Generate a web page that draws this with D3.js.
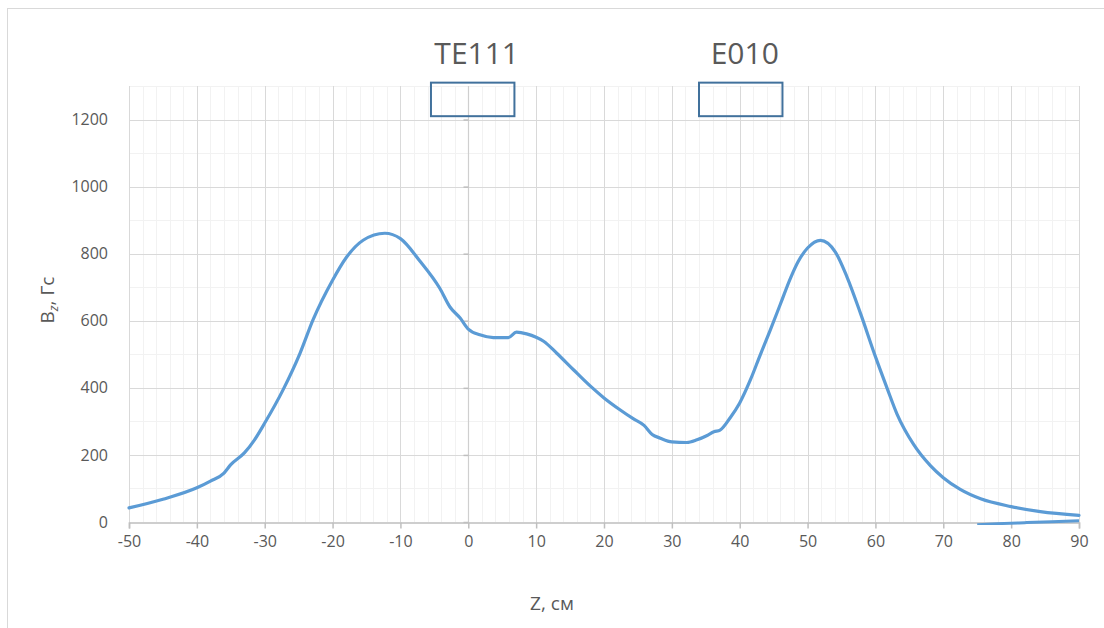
<!doctype html>
<html>
<head>
    <meta charset="UTF-8">
    <title>Bz(Z)</title>
    <script src="https://cdn.jsdelivr.net/npm/d3@7"></script>
    <style>
        body { margin: 0; background: #fff; }
        text { font-family: "Open Sans", "Noto Sans", sans-serif; fill: #595959; }
    </style>
</head>
<body>
<svg class="chart" width="1104" height="628"></svg>
<script>
    // magnetic field along z, main curve
    var zVals = [-50, -45, -40, -38, -36, -35, -33, -31.5, -30, -27.3, -24.8, -22.9, -20, -18, -15.5, -12.3, -10, -7.2,
        -4.2, -2.7, -1.2, 0, 1.7, 3.7, 5.9, 7.1, 8.6, 10, 11.1, 13, 15.5, 18, 20, 22.4, 24.3, 25.9, 27.1, 28.3, 30,
        32.2, 33.7, 35.2, 36.2, 37.1, 38.6, 40, 41.6, 43, 44.5, 46, 47.5, 48.6, 50, 51.9, 54.1, 55.8, 57.8, 60, 61.7, 63.2,
        65.6, 68.1, 70, 72.5, 75.5, 80, 84.3, 90];
    var bzVals = [42, 68, 102, 122, 146, 171, 206, 245, 295, 394, 503, 602, 721, 788, 840, 861, 845, 780,
        697, 641, 608, 575, 558, 550, 550, 566, 561, 551, 539, 504, 454, 405, 370, 334, 308, 288, 261, 250, 239,
        237, 245, 258, 269, 274, 311, 355, 425, 497, 572, 650, 728, 776, 817, 840, 805, 731, 622, 493, 400, 321,
        232, 168, 132, 97, 69, 46, 31, 20];
    // second short series near the axis at the right end
    var z2Vals = [75, 78, 82, 86, 90];
    var bz2Vals = [-8, -5, -2, 1, 4];

    var xTicks = d3.range(-50, 91, 10);
    var yTicks = d3.range(0, 1201, 200);

    var boxLabels = ['TE111', 'E010'];
    var boxStart = [-5.5, 34.0];
    var boxEnd = [6.8, 46.3];
    var boxBottom = 1210, boxTop = 1310;

    var svg = d3.select('.chart');
    var margin = {left: 129, right: 25, top: 86, bottom: 106};
    var W = 1104, H = 628;

    var x = d3.scaleLinear().domain([-50, 90]).range([margin.left, W - margin.right]);
    var y = d3.scaleLinear().domain([0, 1300]).range([H - margin.bottom, margin.top]);

    // outer chart frame
    svg.append('rect').attr('x', 7.5).attr('y', 8.5).attr('width', 1110).attr('height', 640)
        .attr('fill', 'none').attr('stroke', '#d9d9d9').attr('stroke-width', 1);

    var grid = svg.append('g');
    // minor gridlines
    grid.selectAll('.vmin').data(d3.range(-50, 91, 2)).enter().append('line')
        .attr('x1', function (d) { return Math.round(x(d)) + 0.5; })
        .attr('x2', function (d) { return Math.round(x(d)) + 0.5; })
        .attr('y1', y(1300)).attr('y2', y(0))
        .attr('stroke', '#f2f2f2').attr('stroke-width', 1);
    grid.selectAll('.hmin').data(d3.range(100, 1301, 100)).enter().append('line')
        .attr('x1', x(-50)).attr('x2', x(90))
        .attr('y1', function (d) { return Math.round(y(d)) + 0.5; })
        .attr('y2', function (d) { return Math.round(y(d)) + 0.5; })
        .attr('stroke', '#f2f2f2').attr('stroke-width', 1);
    // major gridlines
    grid.selectAll('.vmaj').data(xTicks).enter().append('line')
        .attr('x1', function (d) { return Math.round(x(d)) + 0.5; })
        .attr('x2', function (d) { return Math.round(x(d)) + 0.5; })
        .attr('y1', y(1300)).attr('y2', y(0))
        .attr('stroke', '#d9d9d9').attr('stroke-width', 1);
    grid.selectAll('.hmaj').data(d3.range(200, 1201, 200)).enter().append('line')
        .attr('x1', x(-50)).attr('x2', x(90))
        .attr('y1', function (d) { return Math.round(y(d)) + 0.5; })
        .attr('y2', function (d) { return Math.round(y(d)) + 0.5; })
        .attr('stroke', '#d9d9d9').attr('stroke-width', 1);

    // x axis
    var xAxis = svg.append('g').attr('transform', 'translate(0,' + (Math.round(y(0)) + 0.5) + ')')
        .call(d3.axisBottom(x).tickValues(xTicks).tickSize(6).tickPadding(7)
            .tickFormat(function (d) { return String(d); }));
    xAxis.select('.domain').attr('stroke', '#bfbfbf').attr('stroke-width', 1.5);
    xAxis.selectAll('.tick line').attr('stroke', '#bfbfbf').attr('stroke-width', 1.5);
    xAxis.selectAll('.tick text').attr('font-size', '16px').attr('fill', '#595959')
        .style('font-family', '"Open Sans", "Noto Sans", sans-serif');

    // y axis line sits at z = 0, labels on the left edge
    var yAxis = svg.append('g').attr('transform', 'translate(' + (Math.round(x(0)) + 0.5) + ',0)')
        .call(d3.axisLeft(y).tickValues(yTicks).tickSize(5).tickFormat(''));
    yAxis.select('.domain').attr('stroke', '#cfcfcf').attr('stroke-width', 1.2)
        .attr('d', 'M0,' + y(1300) + 'V' + y(0));
    yAxis.selectAll('.tick line').attr('stroke', '#bfbfbf').attr('stroke-width', 1.5);

    svg.append('g').selectAll('text').data(yTicks).enter().append('text')
        .attr('x', 108).attr('y', function (d) { return y(d); })
        .attr('dy', '0.35em').attr('text-anchor', 'end').attr('font-size', '16px')
        .text(function (d) { return d; });

    // curves
    var line = d3.line()
        .x(function (d) { return x(d[0]); })
        .y(function (d) { return y(d[1]); })
        .curve(d3.curveMonotoneX);

    svg.append('clipPath').attr('id', 'plotClip').append('rect')
        .attr('x', x(-50)).attr('y', y(1300)).attr('width', x(90) - x(-50) + 3).attr('height', y(0) - y(1300) + 3);

    svg.append('path').datum(d3.zip(z2Vals, bz2Vals))
        .attr('clip-path', 'url(#plotClip)')
        .attr('d', line).attr('fill', 'none').attr('stroke', '#5b9bd5').attr('stroke-width', 3);

    svg.append('path').datum(d3.zip(zVals, bzVals))
        .attr('d', line).attr('fill', 'none').attr('stroke', '#5b9bd5')
        .attr('stroke-width', 3.2).attr('stroke-linejoin', 'round').attr('stroke-linecap', 'round');

    // cavity boxes and labels
    var boxes = svg.append('g');
    boxLabels.forEach(function (name, i) {
        boxes.append('rect')
            .attr('x', x(boxStart[i])).attr('y', y(boxTop))
            .attr('width', x(boxEnd[i]) - x(boxStart[i])).attr('height', y(boxBottom) - y(boxTop))
            .attr('fill', 'none').attr('stroke', '#41719c').attr('stroke-width', 2);
        boxes.append('text')
            .attr('x', (x(boxStart[i]) + x(boxEnd[i])) / 2 + 4).attr('y', 64)
            .attr('text-anchor', 'middle').attr('font-size', '30px')
            .text(name);
    });

    // axis titles
    svg.append('text').attr('x', 552).attr('y', 610).attr('text-anchor', 'middle')
        .attr('font-size', '19px').text('Z, см');

    var yt = svg.append('text').attr('transform', 'translate(54,300) rotate(-90)')
        .attr('text-anchor', 'middle').attr('font-size', '19px');
    yt.append('tspan').text('B');
    yt.append('tspan').attr('font-size', '13px').attr('font-style', 'italic').attr('dy', '4').text('z');
    yt.append('tspan').attr('dy', '-4').text(', Гс');
</script>
</body>
</html>
